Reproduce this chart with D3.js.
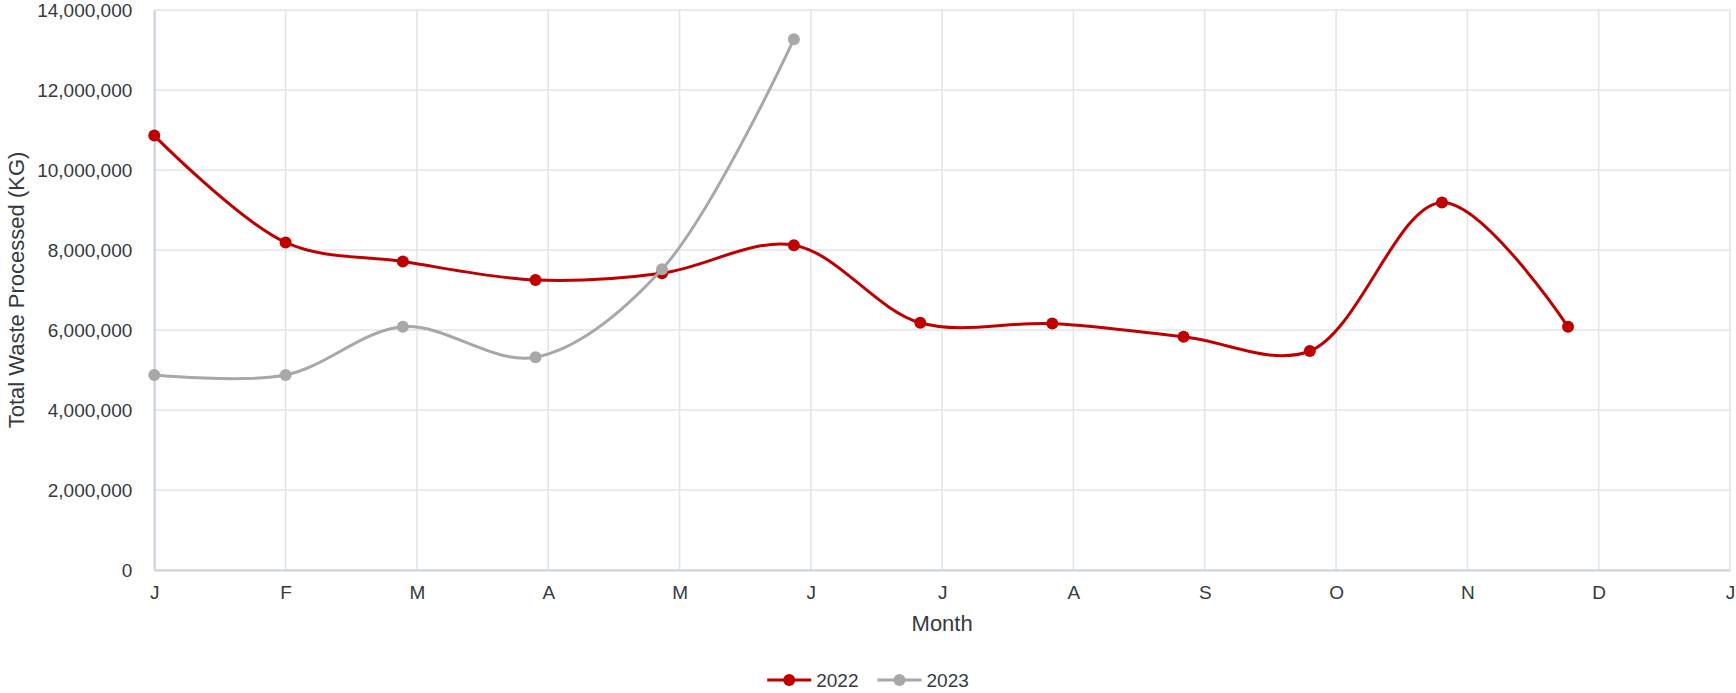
<!DOCTYPE html>
<html>
<head>
<meta charset="utf-8">
<script src="https://cdn.jsdelivr.net/npm/d3@7"></script>
<style>
  html, body { margin: 0; padding: 0; background: #fff; }
  text { font-family: "Liberation Sans", Arial, sans-serif; fill: #343a40; }
</style>
</head>
<body>
<div id="chart"></div>
<script>
"use strict";

// data
var monthLetters = ["J", "F", "M", "A", "M", "J", "J", "A", "S", "O", "N", "D", "J"];
var yTicks = [0, 2000000, 4000000, 6000000, 8000000, 10000000, 12000000, 14000000];
var seriesNames = ["2022", "2023"];

var dates2022 = ["2022-01-01", "2022-02-01", "2022-02-26", "2022-03-29", "2022-04-27", "2022-05-28",
                 "2022-06-26", "2022-07-27", "2022-08-27", "2022-09-25", "2022-10-26", "2022-11-24"];
var waste2022 = [10860000, 8190000, 7710000, 7250000, 7420000, 8120000,
                 6180000, 6160000, 5830000, 5475000, 9190000, 6080000];

var dates2023 = ["2023-01-01", "2023-02-01", "2023-02-26", "2023-03-29", "2023-04-27", "2023-05-28"];
var waste2023 = [4875000, 4875000, 6080000, 5320000, 7520000, 13270000];

var colors = { "2022": "#c00000", "2023": "#a8a8a8" };

var W = 1736, H = 693;
var margin = { top: 10, right: 6, bottom: 123, left: 154.3 };
var w = W - margin.left - margin.right,
    h = H - margin.top - margin.bottom;

var parseDate = d3.timeParse("%Y-%m-%d");

// month position as fraction: month index + part of that month elapsed
function monthPos(str) {
  var d = parseDate(str);
  var start = d3.timeMonth.floor(d);
  var next = d3.timeMonth.offset(start, 1);
  return d.getMonth() + (d - start) / (next - start);
}

var series = [
  { name: "2022", values: dates2022.map((d, i) => ({ m: monthPos(d), v: waste2022[i] })) },
  { name: "2023", values: dates2023.map((d, i) => ({ m: monthPos(d), v: waste2023[i] })) }
];

var x = d3.scaleLinear().domain([0, 12]).range([0, w]);
var y = d3.scaleLinear().domain([0, 14000000]).range([h, 0]);

var svg = d3.select("#chart").append("svg")
    .attr("width", W)
    .attr("height", H);

var g = svg.append("g")
    .attr("transform", "translate(" + margin.left + "," + margin.top + ")");

// grid
g.append("g")
    .selectAll("line.hgrid").data(yTicks)
    .join("line")
      .attr("x1", 0).attr("x2", w)
      .attr("y1", d => y(d)).attr("y2", d => y(d))
      .attr("stroke", "#e2e6ea")
      .attr("stroke-width", 1.6);

g.append("g")
    .selectAll("line.vgrid").data(d3.range(13))
    .join("line")
      .attr("x1", d => x(d)).attr("x2", d => x(d))
      .attr("y1", 0).attr("y2", h)
      .attr("stroke", "#e2e6ea")
      .attr("stroke-width", 1.6);

// axes
var xAxis = d3.axisBottom(x)
    .tickValues(d3.range(13))
    .tickFormat(i => monthLetters[i])
    .tickSize(0)
    .tickPadding(16);

var yAxis = d3.axisLeft(y)
    .tickValues(yTicks)
    .tickFormat(d3.format(","))
    .tickSize(0)
    .tickPadding(22);

var gx = g.append("g")
    .attr("transform", "translate(0," + h + ")")
    .call(xAxis);
gx.select(".domain").attr("stroke", "#ccd4dc").attr("stroke-width", 2);
gx.selectAll("text").style("font-size", "19px");

var gy = g.append("g").call(yAxis);
gy.select(".domain").attr("stroke", "#ccd4dc").attr("stroke-width", 2);
gy.selectAll("text").style("font-size", "19px");

// axis titles
svg.append("text")
    .attr("x", margin.left + w / 2)
    .attr("y", 631)
    .attr("text-anchor", "middle")
    .style("font-size", "22px")
    .text("Month");

svg.append("text")
    .attr("transform", "translate(24," + (margin.top + h / 2) + ") rotate(-90)")
    .attr("text-anchor", "middle")
    .style("font-size", "22px")
    .text("Total Waste Processed (KG)");

// lines and markers
var line = d3.line()
    .x(d => x(d.m))
    .y(d => y(d.v))
    .curve(d3.curveCatmullRom.alpha(0.5));

series.forEach(function(s) {
  var sg = g.append("g").attr("class", "series");
  sg.append("path")
      .datum(s.values)
      .attr("d", line)
      .attr("fill", "none")
      .attr("stroke", colors[s.name])
      .attr("stroke-width", 3);
  sg.selectAll("circle").data(s.values)
      .join("circle")
        .attr("cx", d => x(d.m))
        .attr("cy", d => y(d.v))
        .attr("r", 6)
        .attr("fill", colors[s.name]);
});

// legend, centred on the page
var legend = svg.append("g").attr("id", "legend");
var offset = 0;
seriesNames.forEach(function(name, i) {
  var item = legend.append("g").attr("transform", "translate(" + offset + ",0)");
  item.append("line")
      .attr("x1", 0).attr("x2", 44)
      .attr("y1", 0).attr("y2", 0)
      .attr("stroke", colors[name])
      .attr("stroke-width", 3);
  item.append("circle")
      .attr("cx", 22).attr("cy", 0).attr("r", 6)
      .attr("fill", colors[name]);
  var t = item.append("text")
      .attr("x", 49).attr("y", 0)
      .attr("dy", "0.35em")
      .style("font-size", "19px")
      .text(name);
  offset += 49 + t.node().getComputedTextLength() + 19;
});
var legendW = offset - 19;
legend.attr("transform", "translate(" + (W / 2 - legendW / 2) + ",680)");
</script>
</body>
</html>
